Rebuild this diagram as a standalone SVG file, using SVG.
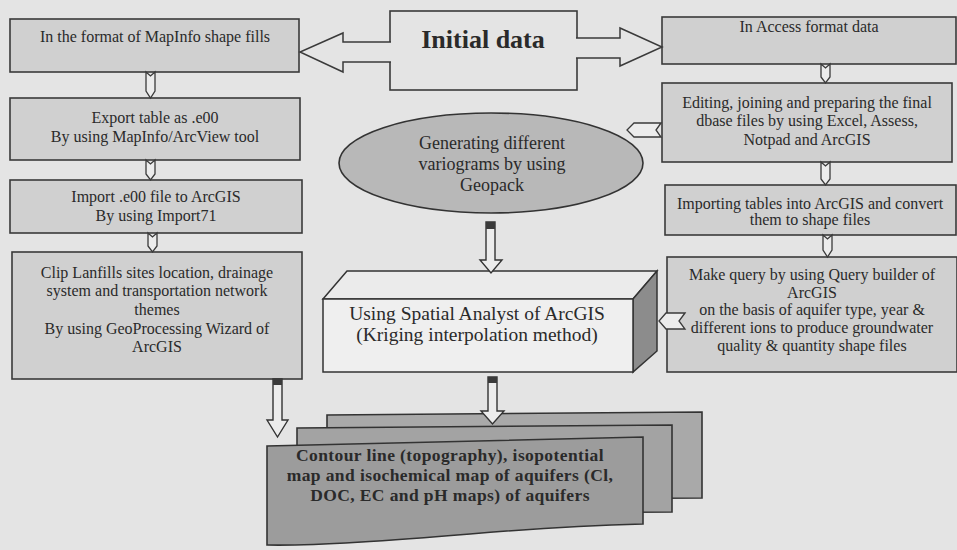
<svg xmlns="http://www.w3.org/2000/svg" width="957" height="550" viewBox="0 0 957 550">
<style>
.bg{fill:#e4e4e4}
.box{fill:#d0d0d0;stroke:#3a3a3a;stroke-width:1.6}
.t{font-family:"Liberation Serif","Times New Roman",serif;font-size:16px;fill:#2a2a2a;text-anchor:middle}
.te{font-family:"Liberation Serif","Times New Roman",serif;font-size:18px;fill:#2a2a2a;text-anchor:middle}
.t3{font-family:"Liberation Serif","Times New Roman",serif;font-size:19.5px;fill:#2a2a2a;text-anchor:middle}
.tb{font-family:"Liberation Serif","Times New Roman",serif;font-weight:bold;font-size:17.5px;letter-spacing:0.4px;fill:#2a2a2a;text-anchor:middle}
.title{font-family:"Liberation Serif","Times New Roman",serif;font-weight:bold;font-size:26px;fill:#2a2a2a;text-anchor:middle}
.sm{fill:#ececec;stroke:#3a3a3a;stroke-width:1.3;stroke-linejoin:miter}
.big{fill:#ececec;stroke:#333;stroke-width:1.4}
.cap{fill:#3a3a3a}
.sheet{stroke:#333;stroke-width:1.6}
</style>
<rect class="bg" x="0" y="0" width="957" height="550"/>

<g id="initial-data">
<rect x="390" y="11" width="187" height="79" fill="#e4e4e4" stroke="#3a3a3a" stroke-width="1.6"/>
<text class="title" x="483" y="48">Initial data</text>
</g>

<g id="mapinfo-format">
<rect class="box" x="10" y="19" width="289" height="53"/>
<text class="t" x="155" y="42">In the format of MapInfo shape fills</text>
</g>

<g id="export-e00">
<rect class="box" x="10" y="98" width="290" height="62"/>
<text class="t" x="155" y="123">Export table as .e00</text>
<text class="t" x="155" y="142">By using MapInfo/ArcView tool</text>
</g>

<g id="import-e00">
<rect class="box" x="10" y="180" width="292" height="53"/>
<text class="t" x="156" y="202">Import .e00 file to ArcGIS</text>
<text class="t" x="156" y="221">By using Import71</text>
</g>

<g id="clip-themes">
<rect class="box" x="12" y="252" width="290" height="127"/>
<text class="t" x="157" y="278">Clip Lanfills sites location, drainage</text>
<text class="t" x="157" y="296">system and transportation network</text>
<text class="t" x="157" y="315">themes</text>
<text class="t" x="157" y="334">By using GeoProcessing Wizard of</text>
<text class="t" x="157" y="352">ArcGIS</text>
</g>

<g id="access-format">
<rect class="box" x="662" y="17" width="294" height="47"/>
<text class="t" x="809" y="32">In Access format data</text>
</g>

<g id="editing-joining">
<rect class="box" x="662" y="83" width="290" height="79"/>
<text class="t" x="807" y="108">Editing, joining and preparing the final</text>
<text class="t" x="807" y="126">dbase files by using Excel, Assess,</text>
<text class="t" x="807" y="145">Notpad and ArcGIS</text>
</g>

<g id="importing-tables">
<rect class="box" x="665" y="185" width="291" height="50"/>
<text class="t" x="810" y="209">Importing tables into ArcGIS and convert</text>
<text class="t" x="810" y="225">them to shape files</text>
</g>

<g id="make-query">
<rect class="box" x="667" y="257" width="290" height="115"/>
<text class="t" x="812" y="280">Make query by using Query builder of</text>
<text class="t" x="812" y="298">ArcGIS</text>
<text class="t" x="812" y="315">on the basis of aquifer type, year &amp;</text>
<text class="t" x="812" y="333">different ions to produce groundwater</text>
<text class="t" x="812" y="351">quality &amp; quantity shape files</text>
</g>

<g id="variograms">
<ellipse cx="491" cy="163" rx="152" ry="50" fill="#b8b8b8" stroke="#333" stroke-width="1.6"/>
<text class="te" x="492" y="149">Generating different</text>
<text class="te" x="492" y="170">variograms by using</text>
<text class="te" x="492" y="191">Geopack</text>
</g>

<g id="spatial-analyst">
<polygon points="323,299 347,271 657,271 633,299" fill="#ebebeb" stroke="#333" stroke-width="1.5"/>
<polygon points="633,299 657,271 657,351 633,372" fill="#8c8c8c" stroke="#333" stroke-width="1.5"/>
<rect x="323" y="299" width="310" height="73" fill="#efefef" stroke="#333" stroke-width="1.5"/>
<text class="t3" x="477" y="320">Using Spatial Analyst of ArcGIS</text>
<text class="t3" x="477" y="341">(Kriging interpolation method)</text>
</g>

<g id="contour-maps">
<path class="sheet" fill="#a9a9a9" d="M327,415 L702,412 L702,498 L327,500 Z"/>
<path class="sheet" fill="#a3a3a3" d="M297,428 L672,425 L672,512 L297,514 Z"/>
<path class="sheet" fill="#9c9c9c" d="M267,446 L643,437 L643,524 C600,525 540,528 470,534 C400,540 320,546 267,545 Z"/>
<text class="tb" x="450" y="461">Contour line (topography), isopotential</text>
<text class="tb" x="450" y="481">map and isochemical map of aquifers (Cl,</text>
<text class="tb" x="450" y="501">DOC, EC and pH maps) of aquifers</text>
</g>

<g id="connectors">
<path d="M391,42 L343,42 L343,33 L300,52 L343,72 L343,62 L391,62" fill="#e4e4e4" stroke="#3a3a3a" stroke-width="1.5"/>
<path d="M576,38 L620,38 L620,28 L662,47 L620,66 L620,58 L576,58" fill="#e4e4e4" stroke="#3a3a3a" stroke-width="1.5"/>
<path class="sm" d="M146,72 L150.5,76 L155,72 L155,91 L150.5,98 L146,91 Z"/>
<path class="sm" d="M146,160 L150.5,164 L155,160 L155,174 L150.5,180 L146,174 Z"/>
<path class="sm" d="M148,233 L152.5,237 L157,233 L157,246 L152.5,252 L148,246 Z"/>
<path class="sm" d="M821,64 L825.5,68 L830,64 L830,77 L825.5,83 L821,77 Z"/>
<path class="sm" d="M821,162 L825.5,166 L830,162 L830,179 L825.5,185 L821,179 Z"/>
<path class="sm" d="M823,235 L827.5,239 L832,235 L832,250 L827.5,257 L823,250 Z"/>
<path class="sm" d="M661,123 L656,130 L661,137 L634,137 L627,130 L634,123 Z"/>
<path class="sm" d="M685,313 L679,321 L685,329 L666,329 L659,321 L666,313 Z"/>
<path class="big" d="M486,222 L495,222 L495,260 L502,260 L491,273 L480,260 L486,260 Z"/>
<rect class="cap" x="486" y="222" width="9" height="7"/>
<path class="big" d="M488,377 L497,377 L497,411 L504,411 L492.5,424 L481,411 L488,411 Z"/>
<rect class="cap" x="488" y="377" width="9" height="6"/>
<path class="big" d="M273,379 L282,379 L282,420 L288,420 L277.5,437 L267,420 L273,420 Z"/>
<rect class="cap" x="273" y="379" width="9" height="6"/>
</g>
</svg>
